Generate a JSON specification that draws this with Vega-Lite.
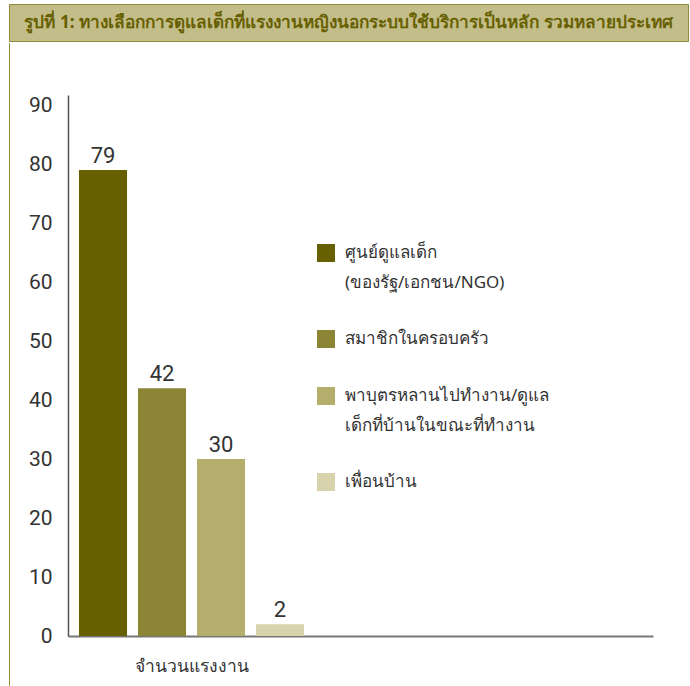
{
  "$schema": "https://vega.github.io/schema/vega-lite/v6.json",
  "background": "white",
  "padding": {"left": 8, "top": 3, "right": 0, "bottom": 0},
  "spacing": 0,
  "config": {
    "style": {"guide-label": {"lineHeight": 30}},
    "view": {"stroke": null}
  },
  "vconcat": [
    {
      "width": 679,
      "height": 37,
      "view": {"fill": "#c3bd8a", "stroke": "#8f8b3b", "strokeWidth": 1},
      "data": {"values": [{"title": "รูปที่ 1: ทางเลือกการดูแลเด็กที่แรงงานหญิงนอกระบบใช้บริการเป็นหลัก รวมหลายประเทศ"}]},
      "mark": {"type": "text", "align": "center", "baseline": "middle", "font": "Noto Sans", "fontSize": 17.2, "fontWeight": "bold", "color": "#676000"},
      "encoding": {"text": {"field": "title", "type": "nominal"}}
    },
    {
      "spacing": 18,
      "hconcat": [
        {
          "width": 0.01,
          "height": 642,
          "view": {"stroke": "#8f8b2f", "strokeWidth": 1},
          "data": {"values": []},
          "mark": "rule",
          "encoding": {}
        },
        {
          "spacing": 0,
          "vconcat": [
            {
              "width": 1,
              "height": 51,
              "data": {"values": []},
              "mark": "rule",
              "encoding": {}
            },
            {
              "width": 585,
              "height": 541,
              "data": {
                "values": [
                  {"group": "จำนวนแรงงาน", "type": "ศูนย์ดูแลเด็ก\n(ของรัฐ/เอกชน/NGO)", "value": 79},
                  {"group": "จำนวนแรงงาน", "type": "สมาชิกในครอบครัว", "value": 42},
                  {"group": "จำนวนแรงงาน", "type": "พาบุตรหลานไปทำงาน/ดูแล\nเด็กที่บ้านในขณะที่ทำงาน", "value": 30},
                  {"group": "จำนวนแรงงาน", "type": "เพื่อนบ้าน", "value": 2}
                ]
              },
              "encoding": {
                "x": {
                  "field": "group",
                  "type": "nominal",
                  "scale": {"domain": ["จำนวนแรงงาน", "_"], "paddingInner": 0.334, "paddingOuter": 0.0325},
                  "axis": {
                    "title": null,
                    "labelAngle": 0,
                    "labelExpr": "datum.value == '_' ? '' : datum.label",
                    "ticks": false,
                    "domainColor": "#777777",
                    "domainWidth": 2,
                    "labelPadding": 21,
                    "labelFont": "Noto Sans",
                    "labelFontSize": 17.5,
                    "labelColor": "#333333"
                  }
                },
                "xOffset": {
                  "field": "type",
                  "type": "nominal",
                  "sort": null,
                  "scale": {
                    "domain": ["ศูนย์ดูแลเด็ก\n(ของรัฐ/เอกชน/NGO)", "สมาชิกในครอบครัว", "พาบุตรหลานไปทำงาน/ดูแล\nเด็กที่บ้านในขณะที่ทำงาน", "เพื่อนบ้าน"],
                    "paddingInner": 0.186,
                    "paddingOuter": 0
                  }
                },
                "y": {
                  "field": "value",
                  "type": "quantitative",
                  "scale": {"domain": [0, 91.7], "nice": false},
                  "axis": {
                    "title": null,
                    "values": [0, 10, 20, 30, 40, 50, 60, 70, 80, 90],
                    "grid": false,
                    "ticks": false,
                    "domainColor": "#555555",
                    "domainWidth": 1.5,
                    "labelPadding": 16,
                    "labelFont": "Roboto",
                    "labelFontSize": 21,
                    "labelColor": "#333333",
                    "minExtent": 40,
                    "maxExtent": 40
                  }
                }
              },
              "layer": [
                {
                  "mark": {"type": "bar"},
                  "encoding": {
                    "color": {
                      "field": "type",
                      "type": "nominal",
                      "scale": {
                        "domain": ["ศูนย์ดูแลเด็ก\n(ของรัฐ/เอกชน/NGO)", "สมาชิกในครอบครัว", "พาบุตรหลานไปทำงาน/ดูแล\nเด็กที่บ้านในขณะที่ทำงาน", "เพื่อนบ้าน"],
                        "range": ["#666000", "#8b8535", "#b4ae6d", "#d8d3ad"]
                      },
                      "legend": {
                        "title": null,
                        "orient": "none",
                        "legendX": 308,
                        "legendY": 240,
                        "padding": 0,
                        "symbolType": "square",
                        "symbolSize": 324,
                        "symbolStrokeWidth": 0,
                        "symbolOpacity": 1,
                        "labelExpr": "split(datum.label, '\\n')",
                        "labelFont": "Noto Sans",
                        "labelFontSize": 17,
                        "labelColor": "#333333",
                        "labelOffset": 10,
                        "labelLimit": 400,
                        "rowPadding": 39
                      }
                    }
                  }
                },
                {
                  "mark": {"type": "text", "baseline": "alphabetic", "dy": -7, "font": "Roboto", "fontSize": 22, "color": "#333333"},
                  "encoding": {"text": {"field": "value", "type": "quantitative"}}
                }
              ]
            }
          ]
        }
      ]
    }
  ]
}
